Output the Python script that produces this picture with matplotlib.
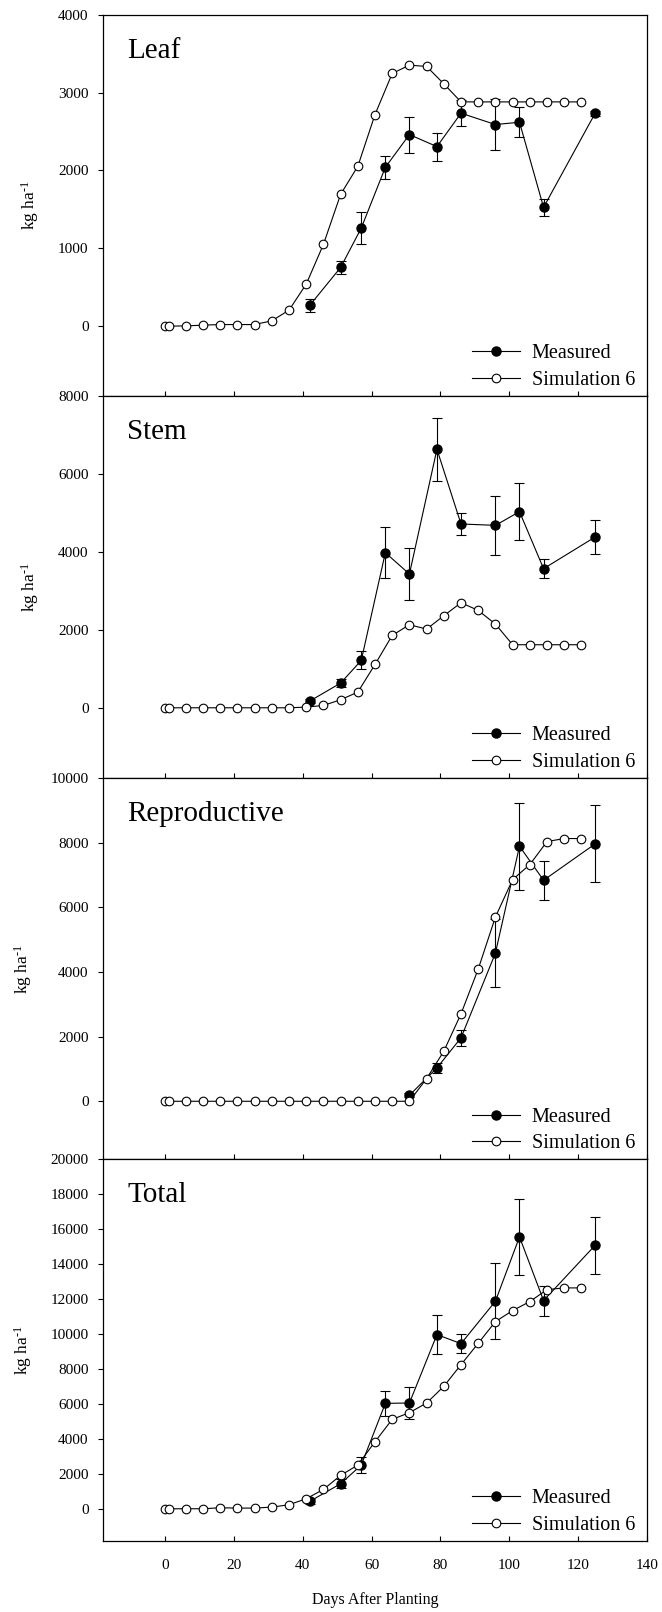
import matplotlib
matplotlib.use("Agg")
import matplotlib.pyplot as plt

plt.rcParams['font.family'] = ['Liberation Serif', 'DejaVu Serif']
plt.rcParams['mathtext.fontset'] = 'custom'
plt.rcParams['mathtext.rm'] = 'Liberation Serif'
plt.rcParams['mathtext.default'] = 'regular'

# Tage nach Pflanzung
sim_days = [0, 1, 6, 11, 16, 21, 26, 31, 36, 41, 46, 51, 56, 61, 66, 71, 76,
            81, 86, 91, 96, 101, 106, 111, 116, 121]
meas_days = [42, 51, 57, 64, 71, 79, 86, 96, 103, 110, 125]

# Leaf
leaf_meas = [266, 754, 1260, 2040, 2460, 2306, 2735, 2589, 2619, 1526, 2735]
leaf_err = [85, 80, 205, 150, 230, 180, 165, 330, 190, 110, 30]
leaf_sim = [0, 0, 4, 13, 21, 21, 21, 69, 206, 540, 1050, 1693, 2053, 2718, 3245,
            3352, 3335, 3112, 2880, 2880, 2880, 2880, 2880, 2880, 2880, 2880]

# Stem
stem_meas = [171, 634, 1216, 3983, 3435, 6638, 4720, 4685, 5036, 3572, 4386]
stem_err = [60, 100, 230, 650, 670, 810, 290, 750, 725, 240, 430]
stem_sim = [0, 0, 0, 0, 0, 0, 0, 0, 0, 17, 60, 206, 403, 1113, 1859,
            2133, 2021, 2364, 2698, 2501, 2150, 1619, 1619, 1619, 1619, 1619]

# Reproductive (Messung erst ab Tag 71)
rep_days = [71, 79, 86, 96, 103, 110, 125]
rep_meas = [186, 1032, 1961, 4583, 7886, 6834, 7959]
rep_err = [60, 155, 240, 1060, 1340, 600, 1190]
rep_sim = [0, 0, 0, 0, 0, 0, 0, 0, 0, 0, 0, 0, 0, 0, 0,
           0, 702, 1548, 2704, 4088, 5698, 6854, 7319, 8031, 8124, 8124]

# Total
tot_meas = [420, 1433, 2502, 6036, 6055, 9971, 9456, 11882, 15568, 11920, 15090]
tot_err = [150, 250, 460, 715, 890, 1130, 550, 2180, 2180, 860, 1620]
tot_sim = [0, 0, 0, 0, 57, 38, 38, 96, 229, 573, 1108, 1910, 2502, 3840, 5119,
           5501, 6055, 7010, 8252, 9475, 10716, 11347, 11862, 12550, 12646, 12646]

panels = [
    ("Leaf", meas_days, leaf_meas, leaf_err, leaf_sim, (-900, 4000), [0, 1000, 2000, 3000, 4000]),
    ("Stem", meas_days, stem_meas, stem_err, stem_sim, (-1800, 8000), [0, 2000, 4000, 6000, 8000]),
    ("Reproductive", rep_days, rep_meas, rep_err, rep_sim, (-1800, 10000), list(range(0, 10001, 2000))),
    ("Total", meas_days, tot_meas, tot_err, tot_sim, (-1850, 20000), list(range(0, 20001, 2000))),
]

fig, axes = plt.subplots(4, 1, figsize=(6.62, 16.12), dpi=100, sharex=True)
fig.subplots_adjust(left=0.156, right=0.977, top=0.9909, bottom=0.044, hspace=0)

for ax, (name, mx, my, merr, sy, ylim, yticks) in zip(axes, panels):
    ax.errorbar(mx, my, yerr=merr, color="black", marker="o", markersize=6.5,
                markerfacecolor="black", linewidth=0.8, elinewidth=0.8,
                capsize=3.8, capthick=0.8, label="Measured", zorder=3)
    ax.plot(sim_days, sy, color="black", marker="o", markersize=6.2,
            markerfacecolor="white", markeredgewidth=0.8, linewidth=0.8,
            label="Simulation 6", zorder=4)
    ax.set_ylim(*ylim)
    ax.set_yticks(yticks)
    ax.set_xlim(-18, 140)
    ax.set_xticks(range(0, 141, 20))
    ax.tick_params(axis='y', direction='out', length=3.6, width=0.8, pad=7, labelsize=11)
    ax.tick_params(axis='x', direction='in', length=3.6, width=0.8, pad=13, labelsize=11)
    for sp in ax.spines.values():
        sp.set_linewidth(0.9)
    ax.set_ylabel("kg ha$^{\u2010 1}$", fontsize=12.5, labelpad=12)
    ax.text(0.044, 0.94, name, transform=ax.transAxes, fontsize=21, va='top', ha='left')

    # Legende nur mit Linie+Marker, ohne Fehlerbalken
    h_meas = plt.Line2D([], [], color="black", marker="o", markersize=6.5,
                        markerfacecolor="black", linewidth=0.8)
    h_sim = plt.Line2D([], [], color="black", marker="o", markersize=6.2,
                       markerfacecolor="white", markeredgewidth=0.8, linewidth=0.8)
    ax.legend([h_meas, h_sim], ["Measured", "Simulation 6"], loc="lower right",
              bbox_to_anchor=(0.99, 0.0), frameon=False, fontsize=14.5,
              handlelength=2.4, handletextpad=0.6, labelspacing=0.38,
              borderpad=0.15, borderaxespad=0.15)

axes[-1].set_xlabel("Days After Planting", fontsize=11.5, labelpad=14)

plt.savefig("out.png", dpi=100)
